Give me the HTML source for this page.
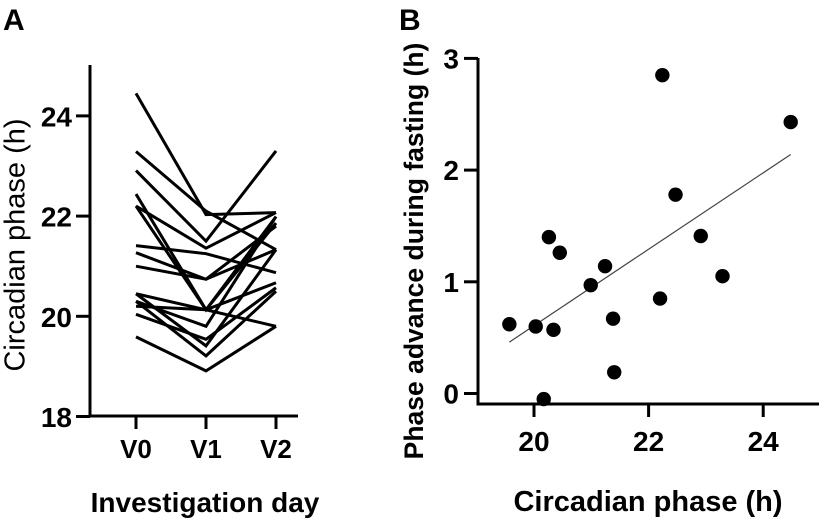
<!DOCTYPE html>
<html><head><meta charset="utf-8"><style>
html,body{margin:0;padding:0;background:#fff;}
svg{display:block;font-family:"Liberation Sans",Arial,sans-serif;}
</style></head><body>
<svg id="fig" width="827" height="523" viewBox="0 0 827 523">
<text x="3" y="30" font-size="30" font-weight="bold">A</text>
<text x="399" y="30" font-size="30" font-weight="bold">B</text>
<g id="pa"></g>
<g id="pb"></g>
<text x="17" y="245" font-size="29" text-anchor="middle" dominant-baseline="middle" transform="rotate(-90 17 245)">Circadian phase (h)</text>
<text x="205" y="512" font-size="28" font-weight="bold" text-anchor="middle">Investigation day</text>
<text x="416" y="251" font-size="26.5" font-weight="bold" text-anchor="middle" dominant-baseline="middle" transform="rotate(-90 416 251)">Phase advance during fasting (h)</text>
<text x="648" y="511" font-size="29" font-weight="bold" text-anchor="middle">Circadian phase (h)</text>
</svg>
<script>
// Panel A data
const visits = ["V0","V1","V2"];
const aTicks = [18,20,22,24];
const subjV0 = [24.45,23.29,22.91,22.44,22.20,22.20,21.41,21.27,21.00,20.45,20.30,20.20,20.04,20.30,19.59,20.45];
const subjV1 = [22.03,22.10,21.50,20.13,21.36,20.13,21.25,20.74,20.74,20.13,19.80,20.13,19.54,19.21,18.91,19.41];
const subjV2 = [22.07,21.33,23.30,21.99,22.07,21.86,20.87,21.80,21.33,20.67,21.99,19.80,20.57,20.50,19.80,21.33];
// Panel B data
const bXTicks = [20,22,24];
const bYTicks = [0,1,2,3];
const phaseX = [19.57,20.03,20.34,20.26,20.45,20.17,20.99,21.24,21.38,21.40,22.24,22.20,22.47,22.91,23.29,24.48];
const advanceY = [0.62,0.60,0.57,1.40,1.26,-0.05,0.97,1.14,0.67,0.19,2.85,0.85,1.78,1.41,1.05,2.43];
const fitX = [19.57,24.48];
const fitY = [0.46,2.14];

const NS="http://www.w3.org/2000/svg";
function mk(parent,tag,attrs){const e=document.createElementNS(NS,tag);for(const k in attrs)e.setAttribute(k,attrs[k]);parent.appendChild(e);return e;}

// Panel A
const pa=document.getElementById('pa');
const ay=v=>316.3-(v-20)*50.1;
const ax=i=>136+i*70;
let e=mk(pa,'line',{x1:90,y1:65,x2:90,y2:416,stroke:'#000','stroke-width':3});


e=mk(pa,'line',{x1:88.5,y1:416,x2:298,y2:416,stroke:'#000','stroke-width':3});


aTicks.forEach(t=>{
  const l=mk(pa,'line',{x1:76,y1:ay(t),x2:90,y2:ay(t),stroke:'#000','stroke-width':3});
  
  
  const tx=mk(pa,'text',{x:72,y:ay(t)+10.5,'font-size':28,'font-weight':'bold','text-anchor':'end'});
  tx.textContent=t;
  
  
});
visits.forEach((v,i)=>{
  const l=mk(pa,'line',{x1:ax(i),y1:416,x2:ax(i),y2:429,stroke:'#000','stroke-width':3});
  
  
  const tx=mk(pa,'text',{x:ax(i),y:458,'font-size':26,'font-weight':'bold','text-anchor':'middle'});
  tx.textContent=v;
  
  
});
subjV0.forEach((v0,k)=>{
  const vals=[v0,subjV1[k],subjV2[k]];
  const pts=vals.map((v,i)=>ax(i)+','+ay(v)).join(' ');
  const pl=mk(pa,'polyline',{points:pts,fill:'none',stroke:'#000','stroke-width':3,'stroke-linejoin':'miter'});
  
  
});

// Panel B
const pb=document.getElementById('pb');
const bx=v=>534+(v-20)*57.3;
const by=v=>393.5-v*111.7;
e=mk(pb,'line',{x1:478,y1:58,x2:478,y2:404,stroke:'#000','stroke-width':3});


e=mk(pb,'line',{x1:476.5,y1:404,x2:819,y2:404,stroke:'#000','stroke-width':3});


bYTicks.forEach(t=>{
  const l=mk(pb,'line',{x1:464,y1:by(t),x2:478,y2:by(t),stroke:'#000','stroke-width':3});
  
  
  const tx=mk(pb,'text',{x:459,y:by(t)+10,'font-size':28,'font-weight':'bold','text-anchor':'end'});
  tx.textContent=t;
  
  
});
bXTicks.forEach(t=>{
  const l=mk(pb,'line',{x1:bx(t),y1:404,x2:bx(t),y2:417,stroke:'#000','stroke-width':3});
  
  
  const tx=mk(pb,'text',{x:bx(t),y:451,'font-size':28,'font-weight':'bold','text-anchor':'middle'});
  tx.textContent=t;
  
  
});
const fl=mk(pb,'line',{x1:bx(fitX[0]),y1:by(fitY[0]),x2:bx(fitX[1]),y2:by(fitY[1]),stroke:'#444','stroke-width':1.2});


phaseX.forEach((x,i)=>{
  const c=mk(pb,'circle',{cx:bx(x),cy:by(advanceY[i]),r:7.2,fill:'#000'});
  
  
});
</script>
</body></html>
